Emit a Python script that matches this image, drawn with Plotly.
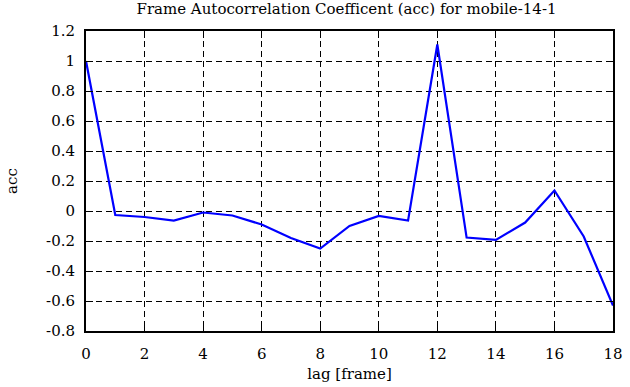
import plotly.graph_objects as go

lags = list(range(19))
acc = [1.0, -0.027, -0.04, -0.064, -0.01, -0.03, -0.09, -0.18, -0.25, -0.10,
       -0.033, -0.064, 1.11, -0.177, -0.193, -0.077, 0.137, -0.17, -0.63]

x_ticks = [0, 2, 4, 6, 8, 10, 12, 14, 16, 18]
y_ticks = [-0.8, -0.6, -0.4, -0.2, 0, 0.2, 0.4, 0.6, 0.8, 1, 1.2]
y_labels = ["-0.8", "-0.6", "-0.4", "-0.2", "0", "0.2", "0.4", "0.6", "0.8", "1", "1.2"]

font = "DejaVu Serif"
f15 = dict(family=font, size=15, color="black")

fig = go.Figure()
fig.add_trace(go.Scatter(x=lags, y=acc, mode="lines",
                         line=dict(color="rgb(0,0,255)", width=2.2)))

fig.update_layout(
    width=630, height=387,
    margin=dict(l=86, r=17, t=31, b=56, autoexpand=False),
    paper_bgcolor="white", plot_bgcolor="white",
    showlegend=False,
    font=f15,
    title=dict(text="Frame Autocorrelation Coefficent (acc) for mobile-14-1",
               x=0.55, xanchor="center", y=0.978, yanchor="middle",
               font=f15),
)
fig.update_xaxes(
    range=[0, 18], tickvals=x_ticks, ticktext=[str(v) for v in x_ticks],
    tickfont=f15, automargin=False,
    showline=True, linecolor="black", linewidth=2, mirror="allticks",
    ticks="inside", ticklen=7, tickwidth=1, tickcolor="black",
    showgrid=True, gridcolor="black", gridwidth=1, griddash="6px,4px",
    zeroline=False, ticklabelstandoff=8,
    title=dict(text="lag [frame]", standoff=6, font=f15),
)
fig.update_yaxes(
    range=[-0.8, 1.2], tickvals=y_ticks, ticktext=y_labels,
    tickfont=f15, automargin=False,
    showline=True, linecolor="black", linewidth=2, mirror="allticks",
    ticks="inside", ticklen=7, tickwidth=1, tickcolor="black",
    showgrid=True, gridcolor="black", gridwidth=1, griddash="6px,4px",
    zeroline=False, ticklabelstandoff=6,
    title=dict(text="acc", standoff=25, font=f15),
)

fig.write_html("out.html", config={"displayModeBar": False},
               post_script="document.body.style.margin='0';document.body.style.overflow='hidden';")
